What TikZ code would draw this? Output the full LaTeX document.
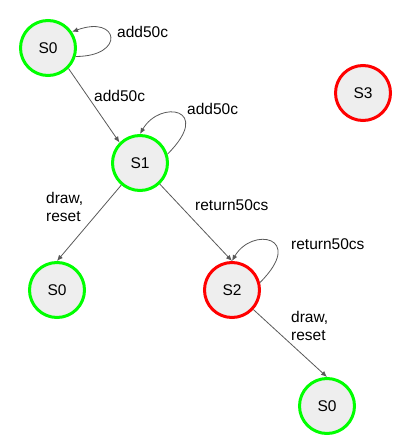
\documentclass[tikz,border=0pt]{standalone}
\usepackage{fontspec}
\setmainfont{Liberation Sans}
\usetikzlibrary{arrows.meta}
\definecolor{okgreen}{RGB}{0,255,0}
\definecolor{badred}{RGB}{255,0,0}
\definecolor{stfill}{RGB}{238,238,238}
\definecolor{edgegray}{RGB}{89,89,89}
\begin{document}
\begin{tikzpicture}[
  x=1pt, y=-1pt,
  font=\fontsize{15.5}{18}\selectfont,
  state/.style={circle, draw, line width=3pt, fill=stfill, minimum size=55pt, inner sep=0pt},
  good/.style={state, draw=okgreen},
  bad/.style={state, draw=badred},
  lbl/.style={anchor=west, align=left, inner sep=0pt},
  arrow/.style={-{Latex[length=6pt,width=5pt]}, draw=edgegray, line width=0.8pt}
]
\useasboundingbox (0,0) rectangle (414,446);
\node[good] (s0a) at (48,48) {S0};
\node[good] (s1) at (140,163) {S1};
\node[bad] (s3) at (363,93) {S3};
\node[good] (s0b) at (57,290) {S0};
\node[bad] (s2) at (232,290) {S2};
\node[good] (s0c) at (327,406) {S0};
\draw[arrow] (s0a.-17) .. controls +(0:50pt) and +(20:50pt) .. (s0a.34);
\draw[arrow] (s0a.south east) -- (s1.north west);
\draw[arrow] (s1.18) .. controls +(45:65pt) and +(60:40pt) .. (s1.north);
\draw[arrow] (s1) -- (s0b.north);
\draw[arrow] (s1) -- (s2.north);
\draw[arrow] (s2.15) .. controls +(45:65pt) and +(60:40pt) .. (s2.north);
\draw[arrow] (s2) -- (s0c.north);
\node[lbl] (l1) at (117,32) {add50c};
\node[lbl] (l2) at (94,96) {add50c};
\node[lbl] (l3) at (187,109) {add50c};
\node[lbl] (l4) at (46,207) {draw,\\reset};
\node[lbl] (l5) at (195,205) {return50cs};
\node[lbl] (l6) at (291,244) {return50cs};
\node[lbl] (l7) at (291,326) {draw,\\reset};
\end{tikzpicture}
\end{document}
